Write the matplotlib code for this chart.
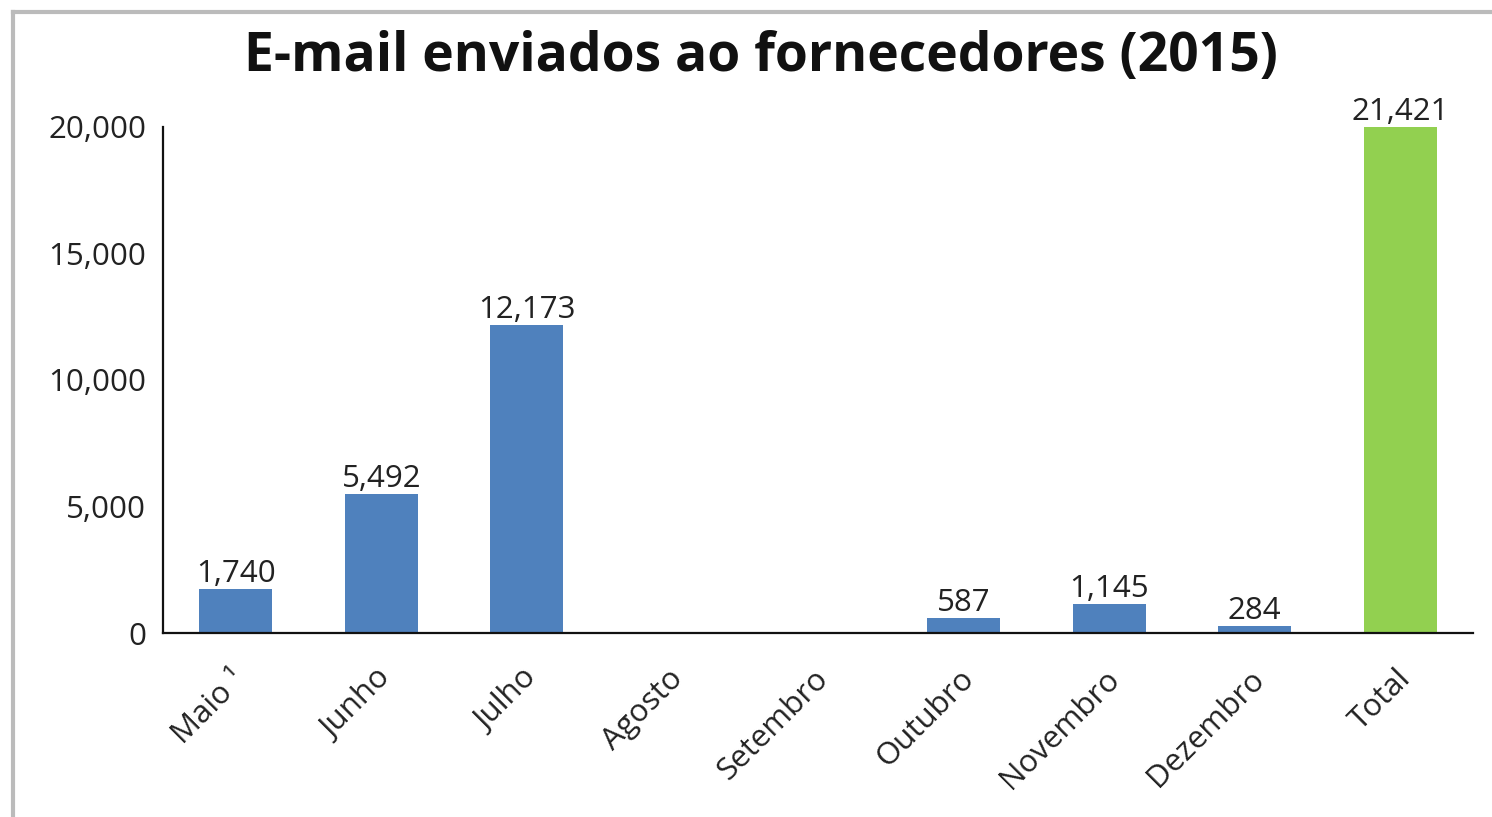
import matplotlib
matplotlib.use("Agg")
import matplotlib.pyplot as plt
from matplotlib.lines import Line2D
import matplotlib.transforms as mtransforms

categories = ["Maio \u00b9", "Junho", "Julho", "Agosto", "Setembro", "Outubro", "Novembro", "Dezembro", "Total"]
values = [1740, 5492, 12173, 0, 0, 587, 1145, 284, 21421]
labels = ["1,740", "5,492", "12,173", "", "", "587", "1,145", "284", "21,421"]
colors = ["#4F81BD"] * 8 + ["#92D050"]
yticks = [0, 5000, 10000, 15000, 20000]
ytick_labels = ["0", "5,000", "10,000", "15,000", "20,000"]

plt.rcParams['font.family'] = ['Open Sans', 'DejaVu Sans']

fig = plt.figure(figsize=(14.92, 8.17), dpi=100)
ax = fig.add_axes([0.1092, 0.2252, 0.8781, 0.6194])

x = list(range(len(categories)))
ax.bar(x, values, width=0.5, color=colors, zorder=2)
ax.set_xlim(-0.5, len(categories) - 0.5)
ax.set_ylim(0, 20000)

for xi, v, lab in zip(x, values, labels):
    if lab:
        ax.annotate(lab, (xi, min(v, 20000)), xytext=(0, 0), textcoords="offset points",
                    ha="center", va="bottom", fontsize=22.5, color="#222222")

ax.set_yticks(yticks)
ax.set_yticklabels(ytick_labels, fontsize=22.5, color="#222222")
ax.set_xticks(x)
ax.set_xticklabels([])
offset = mtransforms.ScaledTranslation(-0.05, -0.31, fig.dpi_scale_trans)
for xi, cat in zip(x, categories):
    ax.text(xi, 0, cat, transform=ax.get_xaxis_transform() + offset,
            fontsize=22.5, color="#222222", rotation=45, ha="right", va="top",
            rotation_mode="anchor")

ax.tick_params(axis="both", length=0)
ax.tick_params(axis="y", pad=12)
for s in ["top", "right"]:
    ax.spines[s].set_visible(False)
ax.spines["left"].set_color("#111111")
ax.spines["bottom"].set_color("#111111")
ax.spines["left"].set_linewidth(1.6)
ax.spines["bottom"].set_linewidth(1.6)

fig.text(0.51, 0.93, "E-mail enviados ao fornecedores (2015)", ha="center", va="center",
         fontsize=38.5, fontweight="bold", color="#111111")

# outer border (left and top)
fig.add_artist(Line2D([0.0087, 0.0087], [0.0, 0.985], transform=fig.transFigure, color="#BBBBBB", lw=3))
fig.add_artist(Line2D([0.0087, 1.0], [0.985, 0.985], transform=fig.transFigure, color="#BBBBBB", lw=3))

fig.savefig("out.png", dpi=100)
